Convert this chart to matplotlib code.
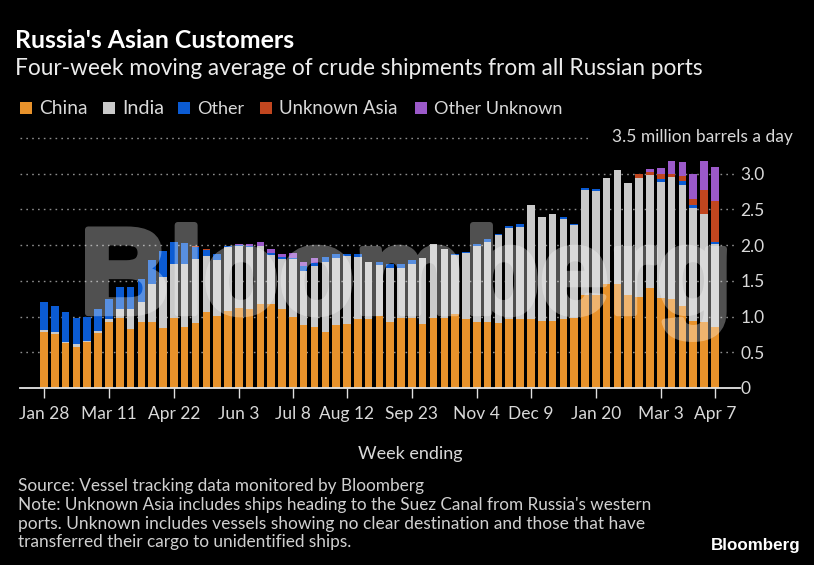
import matplotlib
matplotlib.use("Agg")
import matplotlib.pyplot as plt
from matplotlib.patches import Rectangle, PathPatch
from matplotlib.textpath import TextPath
from matplotlib.font_manager import FontProperties
from matplotlib.transforms import Affine2D
import numpy as np

# ---------------- data ----------------
tick_labels = ["Jan 28", "Mar 11", "Apr 22", "Jun 3", "Jul 8", "Aug 12",
               "Sep 23", "Nov 4", "Dec 9", "Jan 20", "Mar 3", "Apr 7"]
tick_weeks = [0, 6, 12, 18, 23, 28, 34, 40, 45, 51, 57, 62]
y_ticks = [0, 0.5, 1.0, 1.5, 2.0, 2.5, 3.0]
y_tick_labels = ["0", "0.5", "1.0", "1.5", "2.0", "2.5", "3.0"]

china = [0.78, 0.75, 0.63, 0.58, 0.65, 0.77, 0.92, 0.98, 0.83, 0.92,
         0.92, 0.84, 0.98, 0.86, 0.91, 1.06, 1.01, 1.08, 1.12, 1.10,
         1.18, 1.17, 1.10, 1.00, 0.88, 0.86, 0.79, 0.88, 0.90, 0.96,
         0.97, 1.01, 0.93, 0.98, 0.98, 0.90, 0.98, 0.98, 1.03, 0.97,
         0.92, 0.92, 0.91, 0.96, 0.97, 0.96, 0.94, 0.94, 0.97, 0.98,
         1.30, 1.30, 1.45, 1.45, 1.30, 1.28, 1.40, 1.26, 1.24, 1.15,
         0.94, 0.92, 0.86]
india = [0.03, 0.03, 0.02, 0.03, 0.01, 0.03, 0.05, 0.12, 0.27, 0.29,
         0.54, 0.72, 0.76, 0.88, 0.89, 0.79, 0.78, 0.89, 0.87, 0.88,
         0.81, 0.69, 0.70, 0.80, 0.76, 0.85, 0.98, 0.94, 0.95, 0.87,
         0.80, 0.71, 0.75, 0.70, 0.75, 0.92, 1.03, 0.96, 0.83, 0.92,
         1.07, 1.13, 1.23, 1.28, 1.29, 1.60, 1.46, 1.49, 1.40, 1.30,
         1.47, 1.46, 1.49, 1.60, 1.57, 1.66, 1.58, 1.63, 1.72, 1.69,
         1.58, 1.51, 1.16]
other = [0.39, 0.37, 0.42, 0.37, 0.33, 0.31, 0.28, 0.32, 0.32, 0.32,
         0.33, 0.36, 0.31, 0.29, 0.17, 0.08, 0.08, 0.02, 0.01, 0.01,
         0.00, 0.03, 0.03, 0.02, 0.07, 0.04, 0.07, 0.06, 0.02, 0.04,
         0.00, 0.05, 0.05, 0.05, 0.06, 0.00, 0.00, 0.00, 0.02, 0.02,
         0.02, 0.03, 0.02, 0.03, 0.03, 0.00, 0.00, 0.00, 0.03, 0.02,
         0.03, 0.03, 0.00, 0.00, 0.00, 0.00, 0.00, 0.04, 0.00, 0.06,
         0.04, 0.00, 0.03]
unknown_asia = [0, 0, 0, 0, 0, 0, 0, 0, 0, 0,
                0, 0, 0, 0, 0.02, 0.02, 0, 0, 0, 0,
                0, 0, 0, 0, 0, 0, 0, 0, 0, 0,
                0, 0, 0, 0, 0, 0, 0, 0, 0, 0,
                0, 0, 0, 0, 0, 0, 0, 0, 0, 0,
                0, 0, 0, 0, 0, 0.05, 0.05, 0.06, 0.04, 0.07,
                0.08, 0.34, 0.57]
other_unknown = [0, 0, 0, 0, 0, 0, 0, 0, 0, 0,
                 0, 0, 0, 0, 0, 0, 0, 0, 0.02, 0.03,
                 0.06, 0.05, 0.05, 0.07, 0.06, 0.07, 0, 0, 0, 0,
                 0, 0, 0, 0, 0, 0, 0, 0, 0, 0,
                 0, 0, 0, 0, 0, 0, 0, 0, 0, 0,
                 0, 0, 0, 0, 0, 0, 0.04, 0.09, 0.18, 0.20,
                 0.35, 0.41, 0.48]

series_names = ["China", "India", "Other", "Unknown Asia", "Other Unknown"]
series_vals = [china, india, other, unknown_asia, other_unknown]
series_colors = ["#E8922B", "#CACACA", "#0B5BD3", "#C1461F", "#9B59C9"]

# ---------------- figure ----------------
W, H = 814, 565
FONT = "Lato"
plt.rcParams["font.family"] = [FONT, "DejaVu Sans"]
fig = plt.figure(figsize=(W / 100, H / 100), dpi=100, facecolor="black")
pix = Affine2D().scale(1 / W, -1 / H).translate(0, 1) + fig.transFigure

ax_l, ax_r, ax_t, ax_b = 20, 736, 138, 388
ax = fig.add_axes([ax_l / W, 1 - ax_b / H, (ax_r - ax_l) / W, (ax_b - ax_t) / H])
ax.set_facecolor("black")
step = 10.82
xmin = -(44 - ax_l) / step
xmax = xmin + (ax_r - ax_l) / step
ax.set_xlim(xmin, xmax)
ax.set_ylim(0, 3.5)
for s in ax.spines.values():
    s.set_visible(False)

x = np.arange(len(china))
bottom = np.zeros(len(china))
for vals, col in zip(series_vals, series_colors):
    v = np.array(vals)
    ax.bar(x, v, bottom=bottom, width=0.7, color=col, linewidth=0, zorder=2)
    bottom += v

# gridlines
for yv in y_ticks[1:]:
    ax.axhline(yv, color="#8c8c8c", lw=1.0, ls=(0, (1.2, 3)), zorder=1)
ax.hlines(3.5, xmin, xmin + (588 - ax_l) / step, color="#8c8c8c", lw=1.0,
          ls=(0, (1.2, 3)), zorder=1, clip_on=False)
ax.plot([0, 1.006], [0, 0], transform=ax.transAxes, color="#e6e6e6", lw=1.3,
        zorder=3, clip_on=False)

# ticks
ax.set_xticks(tick_weeks, tick_labels)
ax.tick_params(axis="x", colors="#e0e0e0", length=7, width=1, pad=6,
               labelsize=12.5, labelcolor="#d9d9d9")
ax.yaxis.tick_right()
ax.set_yticks(y_ticks, y_tick_labels)
ax.tick_params(axis="y", length=0, pad=3, labelsize=12.5, labelcolor="#d9d9d9")
for lab in ax.get_yticklabels():
    lab.set_horizontalalignment("left")

fig.text(793, 137, "3.5 million barrels a day", transform=pix, ha="right",
         va="center", color="#d9d9d9", fontsize=12.5)

renderer = fig.canvas.get_renderer()


def fit(t, target_w):
    w = t.get_window_extent(renderer).width
    t.set_fontsize(t.get_fontsize() * target_w / w)
    return t


# titles
fit(fig.text(15, 48, "Russia's Asian Customers", transform=pix, color="white",
             fontsize=16, fontweight="bold", va="baseline"), 281)
fit(fig.text(15, 75, "Four-week moving average of crude shipments from all Russian ports",
             transform=pix, color="#ececec", fontsize=15, va="baseline"), 690)

# legend
leg_x = [39, 122, 197, 279, 434]
leg_w = [48, 42, 47, 118, 128]
for name, col, lx, lw in zip(series_names, series_colors, leg_x, leg_w):
    fig.add_artist(Rectangle((lx - 19, 102), 12, 12, transform=pix,
                             facecolor=col, edgecolor="none"))
    fit(fig.text(lx, 114, name, transform=pix, color="#d9d9d9", fontsize=13,
                 va="baseline"), lw)

# axis title and notes
fig.text(410, 459, "Week ending", transform=pix, ha="center", va="baseline",
         color="#d9d9d9", fontsize=13)
notes = ["Source: Vessel tracking data monitored by Bloomberg",
         "Note: Unknown Asia includes ships heading to the Suez Canal from Russia's western",
         "ports. Unknown includes vessels showing no clear destination and those that have",
         "transferred their cargo to unidentified ships."]
note_w = [407, 632, 625, 334]
note_y = [491, 510, 528.5, 547]
for s, w, yy in zip(notes, note_w, note_y):
    fit(fig.text(18, yy, s, transform=pix, color="#d0d0d0", fontsize=11,
                 va="baseline"), w)
fit(fig.text(800, 550, "Bloomberg", transform=pix, ha="right", va="baseline",
             color="white", fontsize=12, fontweight="bold",
             family=["Liberation Sans", "DejaVu Sans"]), 89)

# watermark (heavy translucent wordmark over the bars)
tp = TextPath((0, 0), "Bloomberg", size=100,
              prop=FontProperties(family="Liberation Sans", weight="bold"))
ext = tp.get_extents()
stroke_px = 6.0
half = stroke_px / 2
wl, wr, wt, wb = 85 + half, 727 - half, 222 + half, 342 - half
tr = (Affine2D().translate(-ext.x0, -ext.y1)
      .scale((wr - wl) / ext.width, -(wb - wt) / ext.height)
      .translate(wl, wt)) + pix


def translucent(img, dpi):
    out = img.copy()
    out[..., 3] *= 0.32
    return out, 0, 0


wm = PathPatch(tp, transform=tr, facecolor="white", edgecolor="white",
               linewidth=stroke_px * 0.72, joinstyle="round", zorder=5)
wm.set_agg_filter(translucent)
fig.add_artist(wm)

fig.savefig("out.png", dpi=100, facecolor="black")
